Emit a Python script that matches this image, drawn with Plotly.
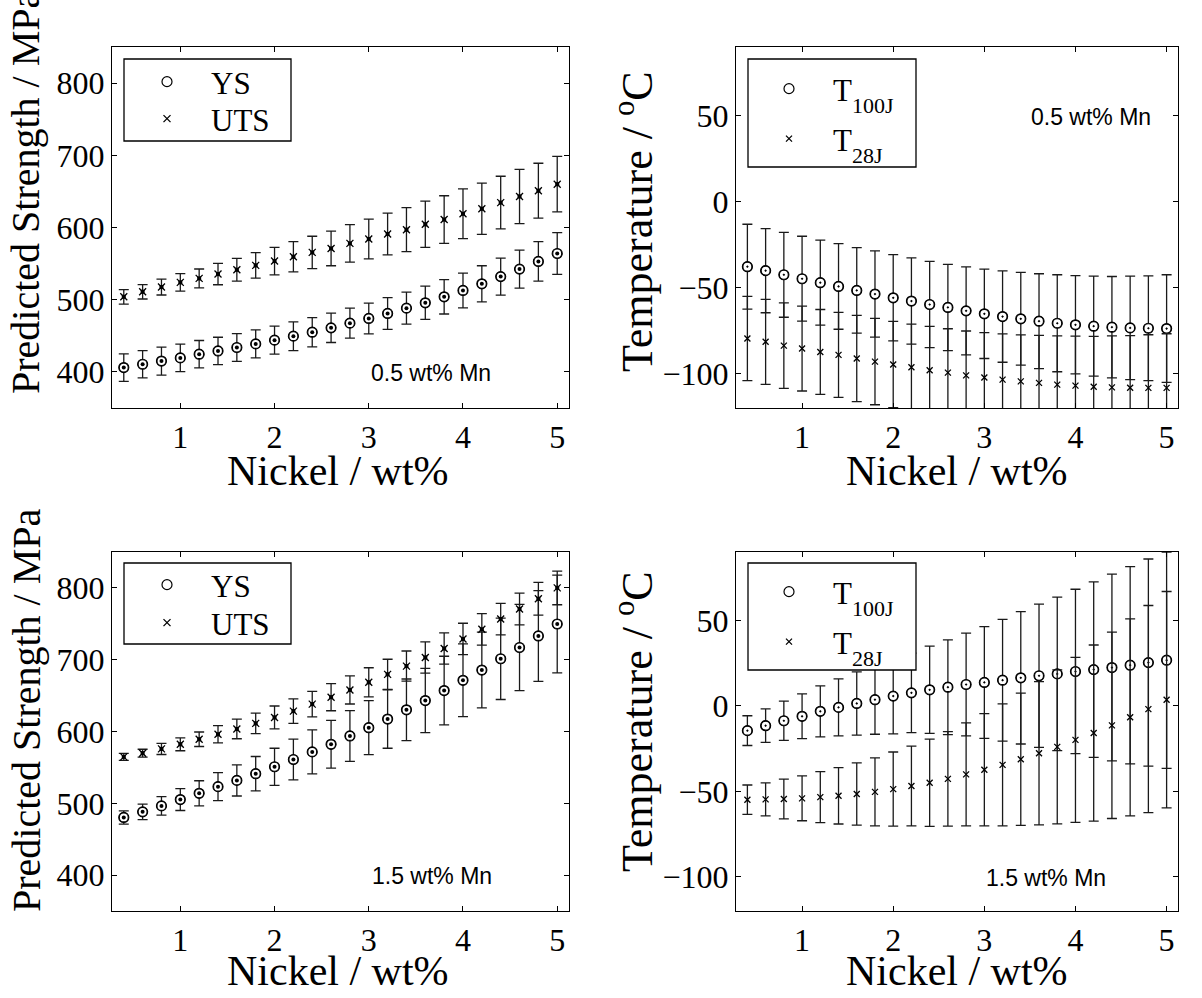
import plotly.graph_objects as go

W, H = 1202, 998
SERIF = "Liberation Serif"
SANS = "Liberation Sans"

# Nickel content of each predicted alloy (wt%)
nickel = [0.4, 0.6, 0.8, 1.0, 1.2, 1.4, 1.6, 1.8, 2.0, 2.2, 2.4, 2.6,
          2.8, 3.0, 3.2, 3.4, 3.6, 3.8, 4.0, 4.2, 4.4, 4.6, 4.8, 5.0]

# 0.5 wt% Mn: strength (MPa) and its uncertainty
ys_05 = [406, 410.6, 415, 419.4, 424.5, 429, 433.8, 438.8, 444, 449.5, 455, 461,
         467.5, 474, 481, 488.3, 495.7, 504, 512.8, 522, 532, 542.4, 553, 564]
ys_05_err = [19, 19, 19.4, 19, 19, 19, 19.2, 19.4, 19.4, 19.9, 20.3, 20.3,
             20.8, 21.3, 22, 22.2, 23, 23.8, 24, 25, 25.7, 26.4, 27.3, 29]
uts_05 = [504, 511, 517.5, 524, 529.5, 535.5, 541.5, 547.5, 553.5, 559.5, 565.5, 571,
          578, 584, 591, 597, 604.4, 611, 619, 626, 634.5, 643, 651, 660]
uts_05_err = [10, 10, 11, 12, 13, 14.8, 15.7, 17.6, 19, 21, 22.4, 24,
              26, 27.5, 29, 30.5, 32, 33, 34.5, 35.4, 36.5, 37.5, 38, 38.4]

# 0.5 wt% Mn: impact transition temperatures (deg C) and uncertainty
t100_05 = [-37.8, -40.1, -42.5, -44.8, -47.1, -49.3, -51.6, -53.7, -55.9, -57.8, -59.8, -61.5,
           -63.5, -65.2, -66.8, -68.1, -69.5, -70.7, -71.6, -72.4, -73.0, -73.4, -73.6, -73.8]
t100_05_err = [24.7, 24.5, 24.7, 24.7, 24.7, 24.9, 24.9, 25.1, 25.1, 25.1, 25.1, 25.1,
               25.6, 26.0, 26.6, 27.0, 27.6, 28.2, 28.6, 29.1, 29.5, 30.1, 30.5, 31.3]
t28_05 = [-79.6, -81.5, -83.7, -85.4, -87.4, -89.1, -91.2, -93.0, -94.7, -96.3, -98.0, -99.4,
          -101.0, -102.3, -103.5, -104.5, -105.4, -106.4, -107.0, -107.6, -108.0, -108.2, -108.3, -108.3]
t28_05_err = [24.5, 24.7, 24.9, 24.7, 24.7, 24.7, 25.1, 25.1, 25.1, 25.1, 25.5, 25.5,
              25.8, 26.2, 26.6, 27.0, 27.6, 28.4, 28.8, 29.3, 29.9, 30.3, 30.9, 31.5]

# 1.5 wt% Mn: strength (MPa) and its uncertainty
ys_15 = [480.3, 488.1, 496.4, 505.2, 513.9, 523.2, 531.9, 541.2, 550.9, 561.0, 571.6, 582.2,
         593.8, 605.3, 617.3, 630.2, 643.1, 657.0, 671.3, 685.6, 701.3, 717.0, 733.1, 749.7]
ys_15_err = [9.2, 10.8, 12.9, 15.2, 17.5, 19.6, 21.7, 24.0, 25.8, 28.4, 30.7, 33.2,
             35.3, 37.6, 40.6, 42.9, 44.8, 47.8, 50.7, 52.8, 56.7, 60.0, 63.2, 68.0]
uts_15 = [564.7, 569.8, 575.8, 582.2, 589.2, 596.1, 603.5, 611.3, 619.6, 628.4, 638.1, 647.8,
          657.9, 668.5, 679.6, 691.1, 703.1, 715.6, 728.9, 742.3, 756.6, 770.5, 784.8, 800.0]
uts_15_err = [4.8, 5.5, 7.8, 9.0, 10.1, 12.0, 13.6, 14.3, 15.9, 17.0, 17.8, 18.9,
              19.6, 20.3, 21.0, 21.0, 21.7, 21.7, 21.9, 21.9, 21.9, 22.1, 22.8, 23.5]

# 1.5 wt% Mn: impact transition temperatures (deg C) and uncertainty
t100_15 = [-14.5, -11.6, -8.7, -6.1, -3.2, -0.9, 1.4, 3.6, 5.7, 7.6, 9.4, 10.9,
           12.5, 13.7, 15.0, 16.4, 17.6, 18.7, 20.1, 21.2, 22.4, 23.8, 25.3, 26.7]
t100_15_err = [8.7, 9.8, 11.5, 13.1, 14.9, 16.7, 18.5, 20.2, 22.1, 23.3, 25.5, 27.7,
               30.1, 32.7, 35.6, 38.7, 41.9, 44.9, 48.1, 51.3, 54.6, 57.7, 60.6, 63.3]
t28_15 = [-54.9, -54.7, -54.5, -54.1, -53.4, -52.6, -51.6, -50.3, -48.7, -46.9, -45.0, -42.7,
          -40.1, -37.4, -34.5, -31.2, -27.7, -24.0, -19.9, -15.9, -11.4, -6.7, -1.9, 3.6]
t28_15_err = [8.6, 9.7, 11.6, 13.1, 14.9, 16.5, 18.2, 19.9, 21.7, 23.3, 25.5, 27.6,
              30.1, 32.8, 35.7, 38.7, 41.9, 45.0, 48.3, 51.5, 54.5, 57.6, 60.6, 63.3]

# Axis ticks
x_ticks = [1, 2, 3, 4, 5]
strength_ticks = [400, 500, 600, 700, 800]
temp_ticks = [-100, -50, 0, 50]

# Subplot boxes in pixels: (left, top, right, bottom)
BOX = {
    1: (112, 47, 569, 408),
    2: (736, 47, 1178, 408),
    3: (112, 552, 569, 911),
    4: (736, 552, 1178, 911),
}


def px(x):
    return x / W


def py(y):
    return 1 - y / H


fig = go.Figure()


def err(vals):
    return dict(type="data", array=vals, visible=True, color="#1a1a1a",
                thickness=1.3, width=5)


def add_strength(k, ys, ys_e, uts, uts_e, lg_a, lg_b):
    xa, ya = f"x{k}", f"y{k}"
    fig.add_trace(go.Scatter(
        x=nickel, y=ys, error_y=err(ys_e), mode="markers", name="YS",
        marker=dict(symbol="circle-open", size=10, color="black",
                    line=dict(width=1.2, color="black")),
        xaxis=xa, yaxis=ya, legend=lg_a))
    fig.add_trace(go.Scatter(
        x=nickel, y=ys, mode="markers", showlegend=False, hoverinfo="skip",
        marker=dict(symbol="circle", size=9, color="white",
                    line=dict(width=1.2, color="black")),
        xaxis=xa, yaxis=ya))
    fig.add_trace(go.Scatter(
        x=nickel, y=ys, mode="markers", showlegend=False, hoverinfo="skip",
        marker=dict(symbol="circle", size=4, color="black", line=dict(width=0)),
        xaxis=xa, yaxis=ya))
    fig.add_trace(go.Scatter(
        x=nickel, y=uts, error_y=err(uts_e), mode="markers", name="UTS",
        marker=dict(symbol="x-thin", size=7, color="black",
                    line=dict(width=1.3, color="black")),
        xaxis=xa, yaxis=ya, legend=lg_b))
    fig.add_trace(go.Scatter(
        x=nickel, y=uts, mode="markers", showlegend=False, hoverinfo="skip",
        marker=dict(symbol="square", size=4, color="black", line=dict(width=0)),
        xaxis=xa, yaxis=ya))


SUB = '<span style="font-size:22px;baseline-shift:-12px">{}</span>'


def add_temp(k, t100, t100_e, t28, t28_e, lg_a, lg_b):
    xa, ya = f"x{k}", f"y{k}"
    fig.add_trace(go.Scatter(
        x=nickel, y=t100, error_y=err(t100_e), mode="markers",
        name="T" + SUB.format("100J"),
        marker=dict(symbol="circle-open", size=10, color="black",
                    line=dict(width=1.2, color="black")),
        xaxis=xa, yaxis=ya, legend=lg_a))
    fig.add_trace(go.Scatter(
        x=nickel, y=t100, mode="markers", showlegend=False, hoverinfo="skip",
        marker=dict(symbol="circle-dot", size=9, color="white",
                    line=dict(width=1.2, color="black")),
        xaxis=xa, yaxis=ya))
    fig.add_trace(go.Scatter(
        x=nickel, y=t28, error_y=err(t28_e), mode="markers",
        name="T" + SUB.format("28J"),
        marker=dict(symbol="x-thin", size=6, color="black",
                    line=dict(width=1.3, color="black")),
        xaxis=xa, yaxis=ya, legend=lg_b))


add_strength(1, ys_05, ys_05_err, uts_05, uts_05_err, "legend", "legend2")
add_temp(2, t100_05, t100_05_err, t28_05, t28_05_err, "legend3", "legend4")
add_strength(3, ys_15, ys_15_err, uts_15, uts_15_err, "legend5", "legend6")
add_temp(4, t100_15, t100_15_err, t28_15, t28_15_err, "legend7", "legend8")

tickfont = dict(family=SERIF, size=32, color="black")
layout = dict(
    width=W, height=H, autosize=False,
    margin=dict(l=0, r=0, t=0, b=0),
    paper_bgcolor="white", plot_bgcolor="white",
    showlegend=True,
)

for k, (l, t, r, b) in BOX.items():
    sfx = "" if k == 1 else str(k)
    layout[f"xaxis{sfx}"] = dict(
        domain=[px(l), px(r)], range=[0.275, 5.125], anchor=f"y{k}",
        tickvals=x_ticks, ticks="inside", ticklen=5, tickwidth=1, tickcolor="black",
        mirror="ticks", showline=True, linecolor="black", linewidth=1.3,
        showgrid=False, zeroline=False, tickfont=tickfont, ticklabelstandoff=0)
    temp = k in (2, 4)
    layout[f"yaxis{sfx}"] = dict(
        domain=[py(b), py(t)], anchor=f"x{k}",
        range=[-120, 90] if temp else [350, 850],
        tickvals=temp_ticks if temp else strength_ticks,
        ticks="inside", ticklen=5, tickwidth=1, tickcolor="black",
        mirror="ticks", showline=True, linecolor="black", linewidth=1.3,
        showgrid=False, zeroline=False, tickfont=tickfont, ticklabelstandoff=0)

# Individually placed legend entries (marker centre positions in pixels)
LEG = {
    "legend": (167, 82), "legend2": (167, 119),
    "legend3": (789, 89), "legend4": (789, 139),
    "legend5": (167, 585), "legend6": (167, 623),
    "legend7": (789, 592), "legend8": (789, 642),
}
for name, (cx, cy) in LEG.items():
    layout[name] = dict(
        x=px(cx - 44), y=py(cy), xanchor="left", yanchor="middle",
        xref="paper", yref="paper",
        bgcolor="rgba(0,0,0,0)", borderwidth=0, itemwidth=78,
        font=dict(family=SERIF, size=31, color="black"))

fig.update_layout(**layout)

# Legend frames
for (l, t, r, b) in [(124, 59, 291, 141), (748, 59, 916, 167),
                     (124, 563, 291, 644), (748, 563, 916, 670)]:
    fig.add_shape(type="rect", xref="paper", yref="paper",
                  x0=px(l), x1=px(r), y0=py(b), y1=py(t),
                  line=dict(color="black", width=1.3), fillcolor="white",
                  layer="above")

# Axis titles
for cx, cy in [(338, 471), (957, 471), (338, 971), (957, 971)]:
    fig.add_annotation(text="Nickel / wt%", x=px(cx), y=py(cy), xref="paper", yref="paper",
                       showarrow=False, xanchor="center", yanchor="middle",
                       font=dict(family=SERIF, size=42, color="black"))
for cy in (192, 710):
    fig.add_annotation(text="Predicted Strength / MPa", x=px(26), y=py(cy),
                       xref="paper", yref="paper", showarrow=False, textangle=-90,
                       xanchor="center", yanchor="middle",
                       font=dict(family=SERIF, size=40, color="black"))
for cy in (222, 722):
    fig.add_annotation(text="Temperature / <sup>o</sup>C", x=px(634), y=py(cy),
                       xref="paper", yref="paper", showarrow=False, textangle=-90,
                       xanchor="center", yanchor="middle",
                       font=dict(family=SERIF, size=44, color="black"))

# Manganese content labels
for text, cx, cy in [("0.5 wt% Mn", 431, 373), ("0.5 wt% Mn", 1091, 117),
                     ("1.5 wt% Mn", 432, 876), ("1.5 wt% Mn", 1046, 878)]:
    fig.add_annotation(text=text, x=px(cx), y=py(cy), xref="paper", yref="paper",
                       showarrow=False, xanchor="center", yanchor="middle",
                       font=dict(family=SANS, size=23, color="black"))

fig.write_html("out.html")
